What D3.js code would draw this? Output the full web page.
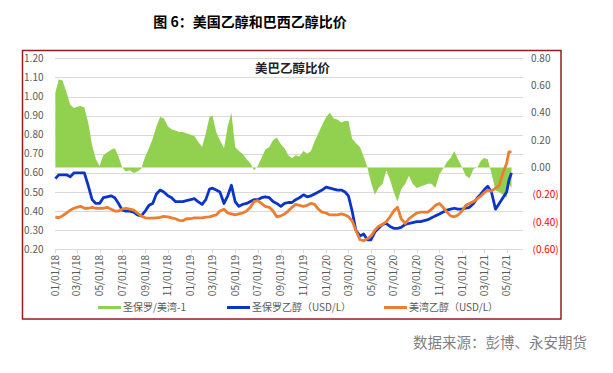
<!DOCTYPE html>
<html>
<head>
<meta charset="utf-8">
<script src="https://cdn.jsdelivr.net/npm/d3@7"></script>
<style>
  body { margin: 0; background: #fff; }
  text { font-family: "Noto Sans CJK SC", "Noto Sans", sans-serif; }
</style>
</head>
<body>
<script>
var W = 613, H = 373;

// sample dates (roughly every 10 days)
var dates = [
  "2018-01-02","2018-01-11","2018-01-21","2018-02-01","2018-02-11","2018-02-21","2018-03-01","2018-03-11","2018-03-21",
  "2018-04-01","2018-04-11","2018-04-21","2018-05-01","2018-05-11","2018-05-21","2018-06-01","2018-06-11","2018-06-21",
  "2018-07-01","2018-07-11","2018-07-21","2018-08-01","2018-08-11","2018-08-21","2018-09-01","2018-09-11","2018-09-21",
  "2018-10-01","2018-10-11","2018-10-21","2018-11-01","2018-11-11","2018-11-21","2018-12-01","2018-12-11","2018-12-21",
  "2019-01-01","2019-01-11","2019-01-21","2019-02-01","2019-02-11","2019-02-21","2019-03-01","2019-03-11","2019-03-21",
  "2019-04-01","2019-04-11","2019-04-21","2019-05-01","2019-05-11","2019-05-21","2019-06-01","2019-06-11","2019-06-21",
  "2019-07-01","2019-07-11","2019-07-21","2019-08-01","2019-08-11","2019-08-21","2019-09-01","2019-09-11","2019-09-21",
  "2019-10-01","2019-10-11","2019-10-21","2019-11-01","2019-11-11","2019-11-21","2019-12-01","2019-12-11","2019-12-21",
  "2020-01-01","2020-01-11","2020-01-21","2020-02-01","2020-02-11","2020-02-21","2020-03-01","2020-03-11","2020-03-21",
  "2020-04-01","2020-04-11","2020-04-21","2020-05-01","2020-05-11","2020-05-21","2020-06-01","2020-06-11","2020-06-21",
  "2020-07-01","2020-07-11","2020-07-21","2020-08-01","2020-08-11","2020-08-21","2020-09-01","2020-09-11","2020-09-21",
  "2020-10-01","2020-10-11","2020-10-21","2020-11-01","2020-11-11","2020-11-21","2020-12-01","2020-12-11","2020-12-21",
  "2021-01-01","2021-01-11","2021-01-21","2021-02-01","2021-02-11","2021-02-21","2021-03-01","2021-03-11","2021-03-21",
  "2021-04-01","2021-04-11","2021-04-21","2021-05-01","2021-05-07","2021-05-14"
];

// 圣保罗/美湾-1 (right axis)
var ratio = [
  0.55,0.645,0.64, 0.55,0.46,0.435, 0.445,0.45,0.44, 0.32,0.16,0.06, 0.01,0.09,0.11, 0.13,0.14,0.08,
  0.0,-0.03,-0.02, -0.04,-0.03,-0.01, 0.08,0.14,0.21, 0.30,0.37,0.36, 0.30,0.28,0.27, 0.26,0.26,0.25,
  0.24,0.23,0.19, 0.15,0.25,0.37, 0.38,0.26,0.20, 0.14,0.30,0.40, 0.15,0.12,0.10, 0.06,0.03,-0.02,
  0.01,0.07,0.13, 0.15,0.20,0.22, 0.17,0.14,0.09, 0.07,0.09,0.08, 0.12,0.10,0.12, 0.19,0.25,0.31,
  0.37,0.40,0.36, 0.35,0.33,0.34, 0.34,0.21,0.18, 0.15,0.08,0.00, -0.11,-0.20,-0.15, -0.12,-0.02,-0.09,
  -0.18,-0.25,-0.16, -0.12,-0.06,-0.12, -0.15,-0.14,-0.13, -0.12,-0.12,-0.15, -0.05,-0.01,0.04, 0.07,0.12,0.06,
  0.0,-0.06,-0.08, -0.01,0.0,0.05, 0.07,0.06,-0.04, -0.17,-0.18,-0.20, -0.22,-0.12,-0.15
];

// 圣保罗乙醇 USD/L (left axis)
var saoPaulo = [
  0.57,0.59,0.59, 0.59,0.58,0.60, 0.60,0.60,0.60, 0.53,0.46,0.44, 0.44,0.47,0.475, 0.48,0.47,0.44,
  0.405,0.40,0.40, 0.395,0.38,0.375, 0.40,0.43,0.44, 0.49,0.51,0.50, 0.48,0.47,0.45, 0.45,0.45,0.455,
  0.46,0.465,0.45, 0.435,0.46,0.515, 0.52,0.51,0.50, 0.44,0.48,0.535, 0.45,0.425,0.435, 0.44,0.45,0.46,
  0.46,0.47,0.475, 0.47,0.45,0.44, 0.425,0.44,0.445, 0.445,0.46,0.47, 0.485,0.475,0.48, 0.49,0.50,0.51,
  0.525,0.52,0.515, 0.51,0.51,0.50, 0.48,0.40,0.30, 0.27,0.28,0.25, 0.25,0.29,0.31, 0.33,0.335,0.32,
  0.31,0.31,0.315, 0.33,0.335,0.34, 0.345,0.345,0.35, 0.355,0.365,0.375, 0.385,0.395,0.405, 0.41,0.415,0.41,
  0.41,0.415,0.42, 0.44,0.47,0.49, 0.51,0.53,0.50, 0.41,0.44,0.47, 0.50,0.56,0.60
];

// 美湾乙醇 USD/L (left axis)
var usGulf = [
  0.37,0.365,0.375, 0.39,0.405,0.415, 0.42,0.425,0.415, 0.415,0.42,0.415, 0.415,0.415,0.42, 0.41,0.40,0.40,
  0.41,0.415,0.41, 0.405,0.39,0.375, 0.365,0.363,0.363, 0.365,0.367,0.372, 0.37,0.365,0.36, 0.352,0.35,0.36,
  0.36,0.365,0.365, 0.365,0.368,0.37, 0.375,0.38,0.40, 0.41,0.39,0.385, 0.38,0.385,0.39, 0.40,0.42,0.45,
  0.455,0.44,0.425, 0.42,0.40,0.37, 0.375,0.385,0.40, 0.42,0.435,0.43, 0.425,0.43,0.44, 0.435,0.41,0.395,
  0.39,0.38,0.38, 0.38,0.385,0.38, 0.37,0.35,0.30, 0.25,0.245,0.255, 0.27,0.30,0.32, 0.33,0.345,0.37,
  0.40,0.42,0.36, 0.335,0.36,0.375, 0.39,0.395,0.395, 0.395,0.41,0.43, 0.44,0.42,0.395, 0.375,0.37,0.38,
  0.40,0.43,0.44, 0.45,0.465,0.48, 0.495,0.51,0.505, 0.52,0.535,0.60, 0.65,0.71,0.71
];

var leftTicks = [0.2,0.3,0.4,0.5,0.6,0.7,0.8,0.9,1.0,1.1,1.2];
var rightTicks = [-0.6,-0.4,-0.2,0,0.2,0.4,0.6,0.8];
var legendNames = ["圣保罗/美湾-1", "圣保罗乙醇（USD/L）", "美湾乙醇（USD/L）"];
var colors = ["#92d050", "#0a35c8", "#ed7d31"];

var parse = d3.timeParse("%Y-%m-%d");
var data = dates.map(function(d, i) {
  return { date: parse(d), r: ratio[i], sp: saoPaulo[i], us: usGulf[i] };
});

var x = d3.scaleTime()
  .domain([new Date(2018, 0, 1), new Date(2021, 5, 14)])
  .range([55, 523]);
var yL = d3.scaleLinear().domain([0.2, 1.2]).range([249.3, 58.3]);
var yR = d3.scaleLinear().domain([-0.6, 0.8]).range([249.3, 58.3]);

var svg = d3.select("body").append("svg")
  .attr("width", W)
  .attr("height", H);

svg.append("rect").attr("width", W).attr("height", H).attr("fill", "#fff");

// title
svg.append("text")
  .attr("x", 250).attr("y", 27)
  .attr("text-anchor", "middle")
  .attr("font-size", 14).attr("font-weight", "bold")
  .text("图 6：美国乙醇和巴西乙醇比价");

// frame
svg.append("rect")
  .attr("x", 22.5).attr("y", 50.5)
  .attr("width", 538.5).attr("height", 268.5)
  .attr("fill", "none")
  .attr("stroke", "#941c1c")
  .attr("stroke-width", 1.5);

// gridlines
svg.selectAll(".grid")
  .data(leftTicks)
  .enter()
    .append("line")
    .attr("x1", 55).attr("x2", 523)
    .attr("y1", (d) => Math.round(yL(d)) + 0.5)
    .attr("y2", (d) => Math.round(yL(d)) + 0.5)
    .attr("stroke", "#d9d9d9")
    .attr("stroke-width", 1);

// left axis labels
svg.selectAll(".ly")
  .data(leftTicks)
  .enter()
    .append("text")
    .attr("x", 43.5)
    .attr("y", (d) => yL(d))
    .attr("dy", "0.35em")
    .attr("text-anchor", "end")
    .attr("font-size", 10)
    .attr("fill", "#595959")
    .text((d) => d3.format(".2f")(d));

// right axis labels
svg.selectAll(".ry")
  .data(rightTicks)
  .enter()
    .append("text")
    .attr("x", (d) => d < 0 ? 532.5 : 531)
    .attr("y", (d) => yR(d))
    .attr("dy", "0.35em")
    .attr("font-size", 10)
    .attr("fill", (d) => d < 0 ? "#ff0000" : "#595959")
    .text((d) => d < 0 ? "(" + d3.format(".2f")(-d) + ")" : d3.format(".2f")(d));

// x axis ticks + labels
var xTicks = d3.timeMonth.every(2).range(new Date(2018, 0, 1), new Date(2021, 4, 2));
var fmt = d3.timeFormat("%m/%d/%y");
svg.selectAll(".xt")
  .data(xTicks)
  .enter()
    .append("line")
    .attr("x1", (d) => Math.round(x(d)) + 0.5)
    .attr("x2", (d) => Math.round(x(d)) + 0.5)
    .attr("y1", 249.5).attr("y2", 253)
    .attr("stroke", "#d9d9d9");
svg.selectAll(".xl")
  .data(xTicks)
  .enter()
    .append("text")
    .attr("transform", (d) => "translate(" + x(d) + ",255) rotate(-90)")
    .attr("dy", "0.35em")
    .attr("text-anchor", "end")
    .attr("font-size", 10)
    .attr("fill", "#595959")
    .text((d) => fmt(d));

// ratio area
var area = d3.area()
  .x((d) => x(d.date))
  .y0(yR(0))
  .y1((d) => yR(d.r));
svg.append("path")
  .datum(data)
  .attr("d", area)
  .attr("fill", colors[0]);

// lines
var lineSP = d3.line().x((d) => x(d.date)).y((d) => yL(d.sp));
var lineUS = d3.line().x((d) => x(d.date)).y((d) => yL(d.us));
svg.append("path").datum(data).attr("d", lineSP)
  .attr("fill", "none").attr("stroke", colors[1]).attr("stroke-width", 2.8)
  .attr("stroke-linejoin", "round");
svg.append("path").datum(data).attr("d", lineUS)
  .attr("fill", "none").attr("stroke", colors[2]).attr("stroke-width", 2.8)
  .attr("stroke-linejoin", "round");

// inner title
svg.append("text")
  .attr("x", 292.5).attr("y", 73)
  .attr("text-anchor", "middle")
  .attr("font-size", 12.5).attr("font-weight", "bold")
  .attr("fill", "#222")
  .text("美巴乙醇比价");

// legend
var legX = [98, 227, 384];
legendNames.forEach(function(name, i) {
  svg.append("line")
    .attr("x1", legX[i]).attr("x2", legX[i] + 23)
    .attr("y1", 307.5).attr("y2", 307.5)
    .attr("stroke", colors[i]).attr("stroke-width", 3);
  svg.append("text")
    .attr("x", legX[i] + 25).attr("y", 307.5)
    .attr("dy", "0.35em")
    .attr("font-size", 10)
    .attr("fill", "#595959")
    .text(name);
});

// source
svg.append("text")
  .attr("x", 413).attr("y", 348)
  .attr("font-size", 14.5)
  .attr("fill", "#7f7f7f")
  .text("数据来源：彭博、永安期货");
</script>
</body>
</html>
